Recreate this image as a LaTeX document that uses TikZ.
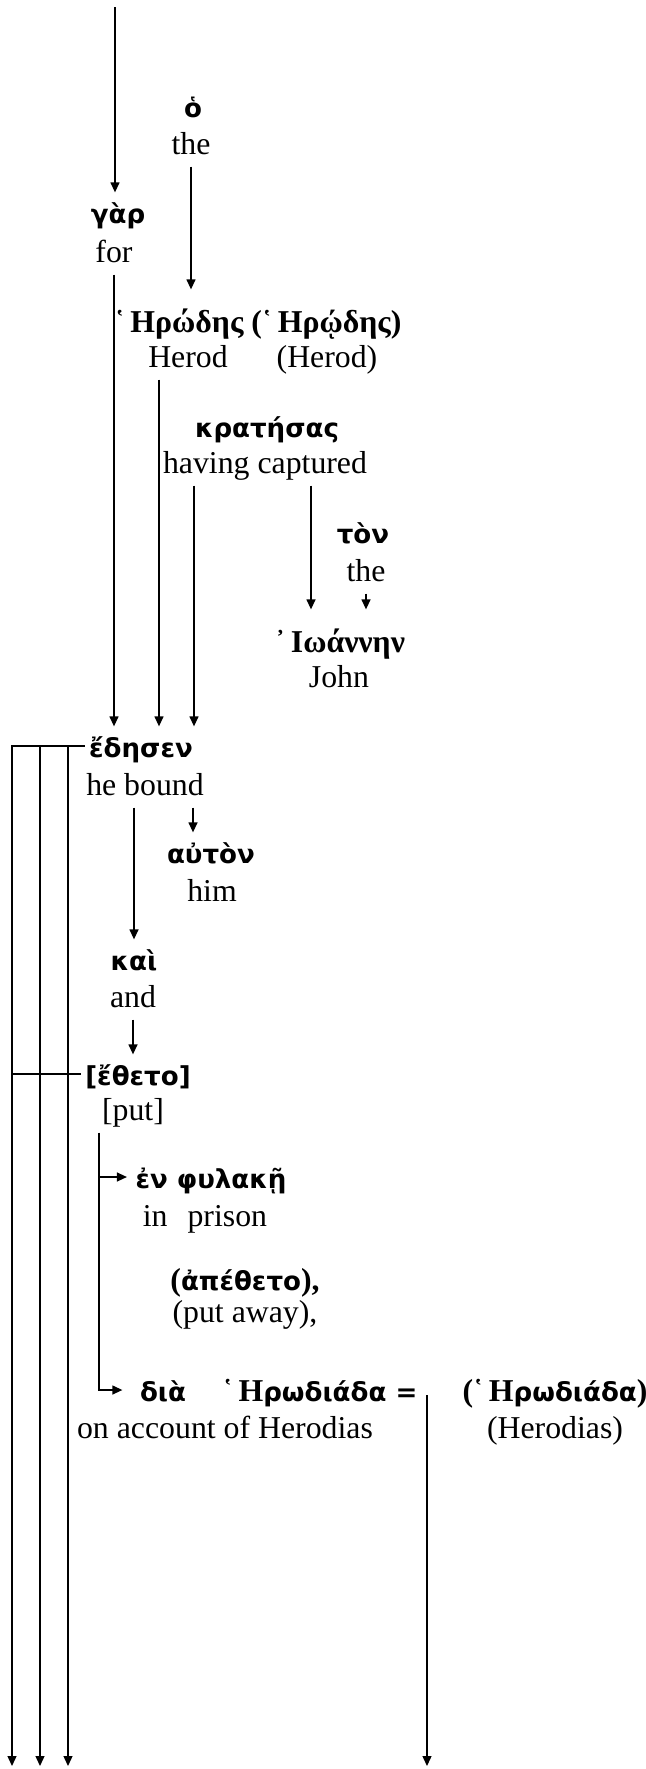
\documentclass[tikz,border=0pt]{standalone}
\usepackage{fontspec}
\setmainfont{Liberation Serif}
\newfontfamily\gkfont{DejaVu Sans}[Scale=0.82]
\usetikzlibrary{arrows.meta}

\newcommand{\sz}{\fontsize{15.9}{19}\selectfont}
\newcommand{\rmb}[1]{{\normalfont\bfseries #1}}

\tikzset{
 gr/.style={anchor=base,inner sep=0pt,text height=15pt,text depth=4pt,font=\sz\gkfont\bfseries},
 nm/.style={anchor=base,inner sep=0pt,text height=21pt,text depth=4pt,font=\sz\bfseries},
 en/.style={anchor=base,inner sep=0pt,text height=11pt,text depth=6pt,font=\sz},
 arr/.style={-{Triangle[length=5pt,width=4.5pt]}}
}

\begin{document}
\begin{tikzpicture}[x=0.5pt,y=-0.5pt,line width=0.65pt]
 \useasboundingbox (0,0) rectangle (645,1769);

 \node at (193,117) [gr] (ho) {ὁ};
 \node at (191,154) [en] (the1) {the};
 \node at (118,223) [gr] (gar) {γὰρ};
 \node at (114,262) [en] (for) {for};
 \node at (258,332) [nm] (herod) {῾\,Ηρώδης (῾\,Ηρῴδης)};
 \node at (188,367) [en] (herodE) {Herod};
 \node at (327,367) [en] (herodE2) {(Herod)};
 \node at (267,437) [gr] (krat) {κρατήσας};
 \node at (265,473) [en] (kratE) {having captured};
 \node at (363,543) [gr] (ton) {τὸν};
 \node at (366,581) [en] (the2) {the};
 \node at (340,652) [nm] (ioan) {᾿\,Ιωάννην};
 \node at (339,687) [en] (john) {John};

 \node at (141,757) [gr] (edesen) {ἔδησεν};
 \node at (145,795) [en] (bound) {he bound};
 \node at (211,863) [gr] (auton) {αὐτὸν};
 \node at (212,901) [en] (him) {him};
 \node at (134,970) [gr] (kai) {καὶ};
 \node at (133,1007) [en] (and) {and};
 \node at (138,1085) [gr] (etheto) {[ἔθετο]};
 \node at (133,1120) [en] (put) {[put]};

 \node at (211,1188) [gr] (en) {ἐν φυλακῇ};
 \node at (205,1226) [en] (prison) {in\hspace{10pt}prison};
 \node at (245,1290) [gr] (apetheto) {\rmb{(}ἀπέθετο\rmb{),}};
 \node at (245,1322) [en] (putaway) {(put away),};
 \node at (163,1401) [gr] (dia) {διὰ};
 \node at (320,1401) [gr] (herodias) {\rmb{῾\,Η}ρωδιάδα =};
 \node at (225,1438) [en] (account) {on account of Herodias};
 \node at (555,1401) [gr] (herodias2) {\rmb{(῾\,Η}ρωδιάδα\rmb{)}};
 \node at (555,1438) [en] (herodiasE) {(Herodias)};

 \coordinate (top) at (115,7);
 \coordinate (hx) at (159,0);
 \coordinate (kx) at (194,0);
 \coordinate (jx) at (311,0);
 \coordinate (ax) at (193,0);
 \coordinate (px) at (99,0);
 \coordinate (tA) at (12,1766);
 \coordinate (tB) at (40,1766);
 \coordinate (tC) at (68,1766);
 \coordinate (rtop) at (427,1395);
 \coordinate (rbot) at (427,1766);

 \draw[arr] (top) -- (top |- gar.north);
 \draw[arr] (the1.south) -- (the1.south |- herod.north);
 \draw[arr] (for.south) -- (for.south |- edesen.north);
 \draw[arr] (herodE.south -| hx) -- (edesen.north -| hx);
 \draw[arr] (kratE.south -| kx) -- (edesen.north -| kx);
 \draw[arr] (kratE.south -| jx) -- (ioan.north -| jx);
 \draw[arr] (the2.south) -- (the2.south |- ioan.north);

 \draw[arr,shorten <=2pt] (edesen.west) -| (tA);
 \draw[arr] (edesen.west -| tB) -- (tB);
 \draw[arr] (edesen.west -| tC) -- (tC);
 \draw[arr] (bound.south -| kai.north) -- (kai.north);
 \draw[arr] (bound.south -| ax) -- (auton.north -| ax);
 \draw[arr] (and.south) -- (and.south |- etheto.north);
 \draw[shorten <=2pt] (etheto.west) -- (etheto.west -| tA);

 \draw[arr,shorten >=8.5pt] (put.south -| px) |- (dia.west);
 \draw[arr,shorten >=4pt] (en.west -| px) -- (en.west);
 \draw[arr] (rtop) -- (rbot);
\end{tikzpicture}
\end{document}
